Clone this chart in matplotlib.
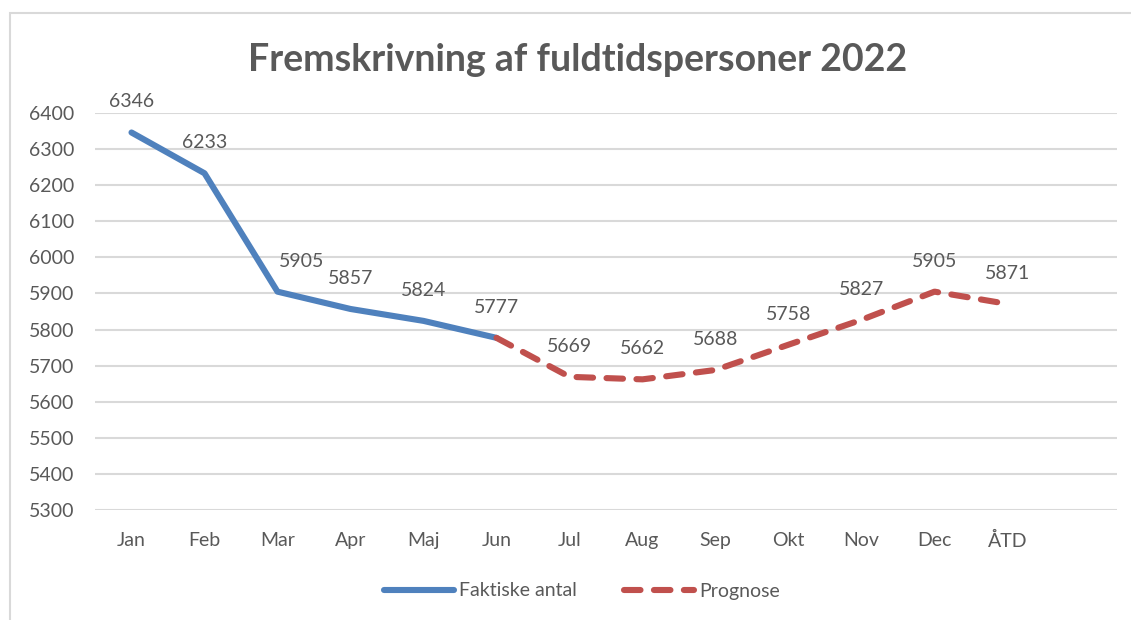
import matplotlib.pyplot as plt
from matplotlib.patches import Rectangle
from matplotlib.lines import Line2D

plt.rcParams['font.family'] = ['Lato', 'DejaVu Sans']

months = ['Jan', 'Feb', 'Mar', 'Apr', 'Maj', 'Jun', 'Jul', 'Aug', 'Sep',
          'Okt', 'Nov', 'Dec', 'ÅTD', '']
actual = [6346, 6233, 5905, 5857, 5824, 5777]
forecast = [5777, 5669, 5662, 5688, 5758, 5827, 5905, 5871]
forecast_start = 5  # Jun

grey = '#595959'
blue = '#4F81BD'
red = '#C0504D'

fig = plt.figure(figsize=(11.31, 6.2), dpi=100)
ax = fig.add_axes([95 / 1131, 1 - 510 / 620, 1022 / 1131, 397 / 620])

# chart frame (Excel-like light border)
fig.add_artist(Rectangle((10 / 1131, -0.5), 2, 1.5 - 13 / 620, transform=fig.transFigure,
                         fill=False, edgecolor='#d9d9d9', linewidth=1.5))

x_act = list(range(len(actual)))
x_fc = list(range(forecast_start, forecast_start + len(forecast)))

ax.plot(x_act, actual, color=blue, linewidth=4.4, solid_capstyle='round',
        solid_joinstyle='round', zorder=3)
ax.plot(x_fc, forecast, color=red, linewidth=4.4, linestyle=(0, (2.7, 2.2)),
        dash_capstyle='round', dash_joinstyle='round', zorder=3)

# data labels
label_x = x_act + x_fc[1:]
label_y = actual + forecast[1:]
for xi, yi in zip(label_x, label_y):
    dx = 17 if months[xi] == 'Mar' else 0
    ax.annotate(f'{yi}', (xi, yi), xytext=(dx, 22), textcoords='offset points',
                ha='center', va='center', fontsize=14, color=grey, zorder=4)

ax.set_xlim(-0.5, len(months) - 0.5)
ax.set_ylim(5300, 6400)
ax.set_yticks(range(5300, 6401, 100))
ax.set_xticks(range(len(months)))
ax.set_xticklabels(months)
ax.tick_params(axis='both', length=0, labelsize=14, labelcolor=grey)
ax.tick_params(axis='y', pad=15)
ax.tick_params(axis='x', pad=16)
ax.grid(axis='y', color='#d9d9d9', linewidth=1.5, zorder=0)
ax.set_axisbelow(True)
for s in ax.spines.values():
    s.set_visible(False)

fig.text(578 / 1131, 1 - 60 / 620, 'Fremskrivning af fuldtidspersoner 2022',
         ha='center', va='center', fontsize=27, fontweight='bold', color=grey)

handles = [Line2D([], [], color=blue, linewidth=4.4, solid_capstyle='round'),
           Line2D([], [], color=red, linewidth=4.4, linestyle=(0, (2.7, 2.2)),
                  dash_capstyle='round')]
fig.legend(handles, ['Faktiske antal', 'Prognose'], loc='center',
           bbox_to_anchor=(582 / 1131, 1 - 591 / 620), ncol=2, frameon=False,
           fontsize=14, labelcolor=grey, handlelength=3.6, handletextpad=0.3,
           columnspacing=2.4)

fig.savefig('out.png', dpi=100, facecolor='white')
